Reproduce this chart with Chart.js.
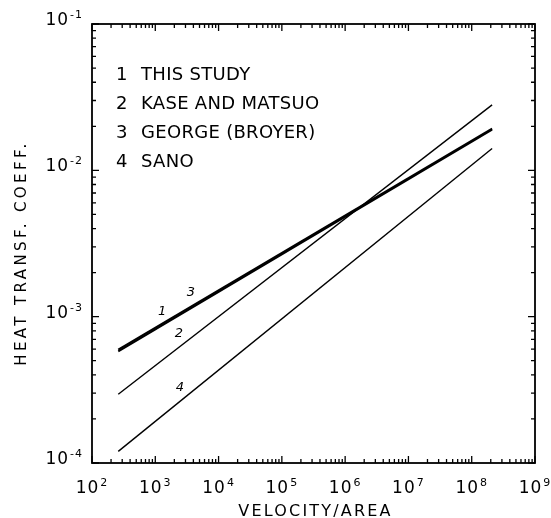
<!DOCTYPE html>
<html>
<head>
<meta charset="utf-8">
<script src="https://cdn.jsdelivr.net/npm/chart.js@4/dist/chart.umd.min.js"></script>
<style>
  html, body { margin: 0; padding: 0; background: #fff; }
  #wrap { width: 551px; height: 518px; }
</style>
</head>
<body>
<div id="wrap"><canvas id="htcChart" width="551" height="518"></canvas></div>
<script>
// end points of each correlation (straight lines on log-log axes)
const velocity = [260, 2.1e8];
const thisStudy = [5.8e-4, 1.9e-2];
const kaseMatsuo = [2.95e-4, 2.8e-2];
const george = [5.95e-4, 1.93e-2];
const sano = [1.2e-4, 1.41e-2];

const seriesNames = ["THIS STUDY", "KASE AND MATSUO", "GEORGE (BROYER)", "SANO"];

// where the curve numbers sit, in data units
const tagX = [1.28e3, 2.37e3, 3.66e3, 2.45e3];
const tagY = [1.08e-3, 7.7e-4, 1.45e-3, 3.25e-4];

const xDecades = [2, 3, 4, 5, 6, 7, 8, 9];
const yDecades = [-4, -3, -2, -1];

const FONT = '"DejaVu Sans", sans-serif';

function pts(ys) {
  return velocity.map((v, i) => ({ x: v, y: ys[i] }));
}

function sup(ctx, exp, x, y, align) {
  // draws "10" with a raised exponent
  const big = 17, small = 11;
  ctx.letterSpacing = "1px";
  ctx.font = big + "px " + FONT;
  const base = "10";
  const bw = ctx.measureText(base).width;
  ctx.font = small + "px " + FONT;
  const ew = ctx.measureText(exp).width;
  const total = bw + 1 + ew;
  let x0 = x;
  if (align === "center") x0 = x - total / 2;
  if (align === "right") x0 = x - total;
  ctx.textAlign = "left";
  ctx.textBaseline = "alphabetic";
  ctx.font = big + "px " + FONT;
  ctx.fillText(base, x0, y);
  ctx.font = small + "px " + FONT;
  ctx.fillText(exp, x0 + bw + 1, y - 7);
}

const framePlugin = {
  id: "frame",
  afterDraw(chart) {
    const { ctx, chartArea: a, scales } = chart;
    const xs = scales.x, ys = scales.y;
    ctx.save();
    ctx.strokeStyle = "#000";
    ctx.fillStyle = "#000";
    ctx.lineWidth = 1.8;
    ctx.strokeRect(a.left, a.top, a.right - a.left, a.bottom - a.top);

    ctx.lineWidth = 1.3;
    ctx.beginPath();
    // x ticks, bottom and top, pointing inward
    for (let d = 2; d <= 9; d++) {
      for (let m = 1; m <= 9; m++) {
        if (d === 9 && m > 1) break;
        const px = xs.getPixelForValue(m * Math.pow(10, d));
        const len = m === 1 ? 7 : 4;
        ctx.moveTo(px, a.bottom);
        ctx.lineTo(px, a.bottom - len);
        ctx.moveTo(px, a.top);
        ctx.lineTo(px, a.top + len);
      }
    }
    // y ticks, left and right
    for (let d = -4; d <= -1; d++) {
      for (let m = 1; m <= 9; m++) {
        if (d === -1 && m > 1) break;
        const py = ys.getPixelForValue(m * Math.pow(10, d));
        const len = m === 1 ? 7 : 4;
        ctx.moveTo(a.left, py);
        ctx.lineTo(a.left + len, py);
        ctx.moveTo(a.right, py);
        ctx.lineTo(a.right - len, py);
      }
    }
    ctx.stroke();

    // tick labels
    xDecades.forEach(d => {
      sup(ctx, String(d), xs.getPixelForValue(Math.pow(10, d)), a.bottom + 30, "center");
    });
    yDecades.forEach(d => {
      sup(ctx, "-" + Math.abs(d), a.left - 9, ys.getPixelForValue(Math.pow(10, d)) + 1, "right");
    });

    // axis titles
    ctx.textAlign = "center";
    ctx.textBaseline = "alphabetic";
    ctx.font = "16px " + FONT;
    ctx.letterSpacing = "2.2px";
    ctx.fillText("VELOCITY/AREA", (a.left + a.right) / 2 + 2, 516);
    ctx.save();
    ctx.translate(26, 253);
    ctx.rotate(-Math.PI / 2);
    ctx.font = "15px " + FONT;
    ctx.letterSpacing = "3.4px";
    ctx.fillText("HEAT TRANSF. COEFF.", 0, 0);
    ctx.restore();

    // key
    ctx.font = "18px " + FONT;
    ctx.letterSpacing = "0.3px";
    ctx.textAlign = "left";
    seriesNames.forEach((name, i) => {
      const y = 80 + i * 29;
      ctx.fillText(String(i + 1), 116, y);
      ctx.fillText(name, 141, y);
    });

    // curve numbers
    ctx.letterSpacing = "0px";
    ctx.font = "italic 13px " + FONT;
    ctx.textAlign = "center";
    ctx.textBaseline = "middle";
    tagX.forEach((v, i) => {
      ctx.fillText(String(i + 1), xs.getPixelForValue(v), ys.getPixelForValue(tagY[i]));
    });
    ctx.restore();
  }
};

const lineStyle = { borderColor: "#000", backgroundColor: "#000", pointRadius: 0, fill: false, tension: 0 };

new Chart(document.getElementById("htcChart").getContext("2d"), {
  type: "line",
  data: {
    datasets: [
      { label: seriesNames[0], data: pts(thisStudy), borderWidth: 2, ...lineStyle },
      { label: seriesNames[1], data: pts(kaseMatsuo), borderWidth: 1.4, ...lineStyle },
      { label: seriesNames[2], data: pts(george), borderWidth: 2, ...lineStyle },
      { label: seriesNames[3], data: pts(sano), borderWidth: 1.4, ...lineStyle }
    ]
  },
  options: {
    responsive: false,
    animation: false,
    layout: { padding: { left: 92, top: 24, right: 16, bottom: 55 } },
    plugins: { legend: { display: false }, tooltip: { enabled: false } },
    scales: {
      x: { type: "logarithmic", min: 1e2, max: 1e9, display: false },
      y: { type: "logarithmic", min: 1e-4, max: 1e-1, display: false }
    }
  },
  plugins: [framePlugin]
});
</script>
</body>
</html>
